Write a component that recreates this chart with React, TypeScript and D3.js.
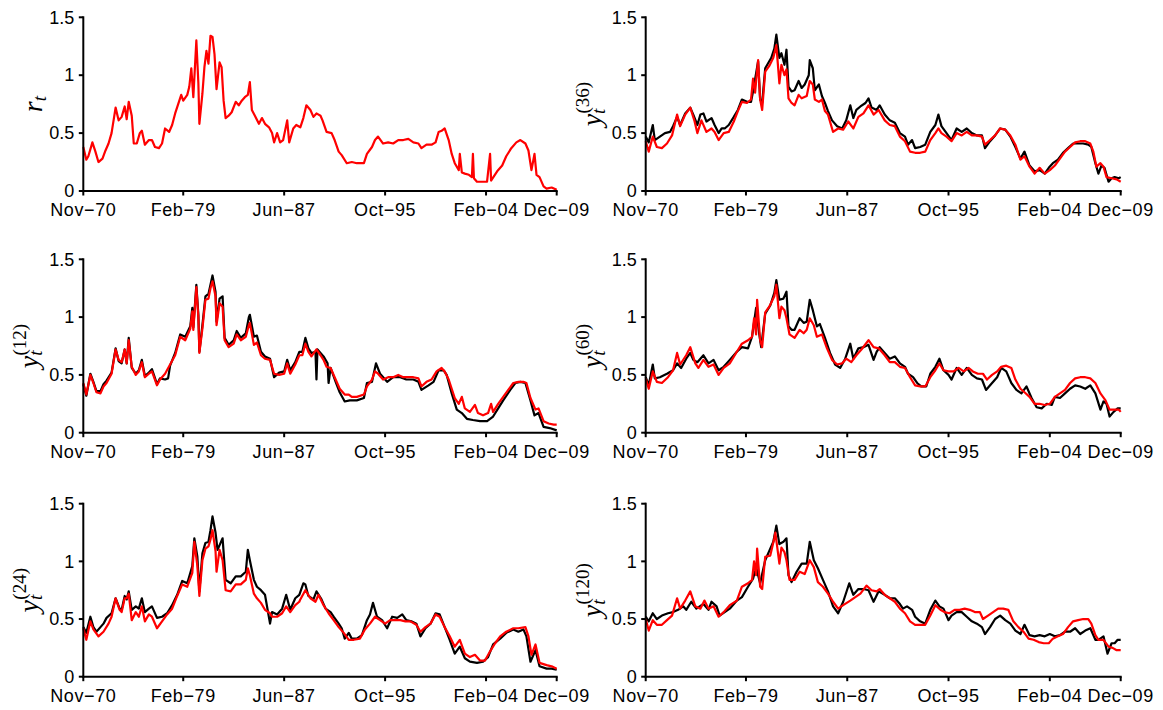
import React from 'react';
import * as d3 from 'd3';

type P = [number, number];

// month index 1 = Nov-70, 470 = Dec-09
const tickMonths = [1, 100, 200, 300, 400, 470];
const tickLabels = ['Nov\u221270', 'Feb\u221279', 'Jun\u221287', 'Oct\u221295', 'Feb\u221204', 'Dec\u221209'];
const yTickValues = [0, 0.5, 1, 1.5];
const yTickLabels = ['0', '0.5', '1', '1.5'];

const rt: P[] = [[1,0.38],[4,0.27],[6,0.30],[10,0.42],[13,0.34],[16,0.25],[20,0.28],[23,0.35],[26,0.41],[29,0.50],[33,0.72],[36,0.61],[39,0.64],[42,0.73],[44,0.62],[46,0.77],[49,0.65],[51,0.41],[54,0.41],[57,0.50],[59,0.52],[62,0.40],[66,0.44],[69,0.44],[72,0.38],[76,0.37],[79,0.41],[82,0.54],[86,0.51],[89,0.57],[92,0.67],[95,0.75],[98,0.83],[100,0.78],[104,0.83],[106,0.90],[108,1.06],[110,0.81],[113,1.30],[115,0.93],[116,0.58],[119,0.84],[121,1.07],[123,1.21],[125,1.10],[127,1.34],[129,1.33],[131,1.18],[133,0.88],[136,1.11],[138,1.07],[140,0.78],[142,0.63],[145,0.65],[148,0.68],[152,0.77],[155,0.74],[158,0.78],[161,0.81],[164,0.83],[166,0.94],[168,0.70],[171,0.65],[175,0.58],[178,0.63],[181,0.58],[185,0.55],[188,0.50],[190,0.42],[193,0.50],[196,0.42],[199,0.44],[203,0.61],[205,0.42],[209,0.54],[212,0.57],[216,0.55],[219,0.63],[222,0.74],[226,0.70],[229,0.64],[232,0.67],[236,0.65],[238,0.61],[242,0.51],[247,0.50],[250,0.44],[254,0.34],[257,0.31],[262,0.24],[267,0.25],[272,0.24],[279,0.24],[282,0.32],[287,0.38],[290,0.44],[293,0.47],[298,0.41],[303,0.42],[308,0.41],[313,0.44],[318,0.44],[323,0.45],[328,0.42],[333,0.41],[336,0.37],[341,0.40],[346,0.40],[350,0.42],[353,0.51],[356,0.52],[359,0.54],[363,0.44],[366,0.32],[369,0.24],[373,0.18],[374,0.32],[376,0.16],[379,0.15],[383,0.14],[386,0.12],[387,0.32],[388,0.11],[391,0.08],[396,0.08],[401,0.08],[404,0.32],[405,0.09],[411,0.17],[416,0.22],[420,0.30],[425,0.37],[430,0.42],[434,0.44],[439,0.41],[442,0.35],[445,0.18],[448,0.32],[450,0.14],[453,0.12],[457,0.04],[460,0.02],[465,0.03],[470,0.01]];

const y12Data: P[] = [[1,0.42],[4,0.32],[8,0.51],[11,0.44],[14,0.36],[18,0.36],[21,0.42],[24,0.45],[29,0.52],[33,0.73],[36,0.62],[39,0.60],[42,0.72],[44,0.60],[46,0.82],[49,0.56],[53,0.51],[56,0.54],[59,0.63],[62,0.49],[66,0.52],[69,0.55],[74,0.42],[77,0.47],[82,0.46],[85,0.47],[87,0.58],[92,0.69],[97,0.85],[102,0.83],[107,0.92],[109,1.08],[110,0.91],[113,1.28],[115,1.02],[116,0.70],[119,0.93],[122,1.18],[125,1.20],[127,1.28],[129,1.36],[132,1.22],[133,0.96],[136,1.16],[139,1.18],[141,0.82],[145,0.76],[150,0.80],[153,0.88],[157,0.82],[162,0.86],[165,1.00],[166,1.02],[170,0.83],[173,0.84],[177,0.70],[181,0.66],[186,0.64],[190,0.48],[195,0.52],[200,0.53],[203,0.63],[206,0.54],[211,0.61],[215,0.70],[218,0.70],[221,0.82],[224,0.73],[227,0.69],[231,0.70],[232,0.46],[233,0.72],[239,0.66],[243,0.60],[244,0.43],[246,0.56],[251,0.44],[255,0.35],[260,0.27],[265,0.28],[272,0.28],[279,0.30],[282,0.43],[287,0.44],[291,0.60],[295,0.51],[302,0.44],[308,0.48],[315,0.48],[321,0.46],[328,0.46],[333,0.44],[336,0.37],[343,0.41],[348,0.44],[353,0.54],[358,0.54],[361,0.50],[366,0.34],[371,0.20],[376,0.17],[381,0.12],[387,0.11],[394,0.10],[401,0.10],[407,0.14],[412,0.21],[417,0.28],[424,0.37],[429,0.43],[434,0.44],[439,0.43],[444,0.28],[448,0.15],[452,0.17],[457,0.05],[463,0.04],[470,0.02]];
const y12Model: P[] = [[1,0.43],[4,0.33],[8,0.50],[11,0.43],[14,0.35],[18,0.34],[21,0.40],[24,0.43],[29,0.51],[33,0.72],[36,0.63],[39,0.61],[42,0.72],[44,0.60],[46,0.80],[49,0.57],[53,0.50],[56,0.53],[59,0.61],[62,0.48],[66,0.51],[69,0.53],[74,0.41],[77,0.46],[82,0.51],[87,0.59],[92,0.67],[97,0.83],[102,0.80],[107,0.90],[109,1.05],[110,0.89],[113,1.26],[115,1.00],[116,0.69],[119,0.90],[122,1.15],[125,1.16],[127,1.25],[129,1.31],[132,1.18],[133,0.93],[136,1.12],[139,1.09],[141,0.80],[145,0.74],[150,0.77],[153,0.85],[157,0.80],[162,0.83],[165,0.93],[166,0.95],[170,0.76],[173,0.78],[177,0.67],[181,0.64],[186,0.63],[190,0.51],[195,0.50],[200,0.51],[203,0.60],[206,0.51],[211,0.59],[215,0.67],[218,0.67],[221,0.77],[224,0.70],[227,0.66],[232,0.72],[236,0.67],[239,0.63],[242,0.57],[246,0.56],[251,0.46],[255,0.38],[260,0.33],[264,0.33],[267,0.31],[272,0.31],[279,0.33],[282,0.40],[287,0.46],[290,0.53],[293,0.51],[298,0.46],[303,0.48],[308,0.48],[313,0.50],[318,0.48],[323,0.48],[328,0.48],[333,0.47],[336,0.40],[341,0.44],[346,0.46],[351,0.53],[356,0.56],[359,0.53],[363,0.46],[366,0.38],[369,0.30],[373,0.25],[376,0.31],[379,0.21],[384,0.18],[389,0.24],[392,0.17],[397,0.15],[402,0.17],[405,0.25],[407,0.18],[412,0.25],[417,0.31],[422,0.37],[427,0.43],[432,0.44],[437,0.44],[440,0.43],[444,0.30],[449,0.20],[452,0.21],[457,0.10],[462,0.08],[467,0.07],[470,0.07]];

const y24Data: P[] = [[1,0.43],[4,0.38],[8,0.52],[11,0.43],[14,0.39],[18,0.43],[21,0.46],[24,0.51],[29,0.55],[33,0.68],[37,0.59],[39,0.58],[42,0.70],[44,0.67],[46,0.74],[49,0.58],[53,0.61],[56,0.59],[59,0.68],[62,0.56],[66,0.59],[69,0.61],[74,0.51],[79,0.52],[84,0.55],[89,0.62],[94,0.71],[99,0.83],[104,0.81],[109,0.96],[111,1.20],[114,1.04],[116,0.74],[119,1.07],[122,1.16],[125,1.17],[127,1.27],[129,1.39],[132,1.25],[134,1.10],[137,1.16],[139,1.20],[142,0.84],[147,0.81],[152,0.87],[157,0.87],[162,0.91],[164,1.10],[166,1.01],[170,0.84],[173,0.78],[177,0.75],[181,0.71],[186,0.46],[188,0.56],[193,0.54],[198,0.59],[202,0.71],[206,0.58],[211,0.68],[215,0.71],[219,0.81],[221,0.80],[224,0.70],[229,0.67],[232,0.74],[237,0.67],[241,0.59],[246,0.56],[249,0.52],[254,0.46],[257,0.42],[260,0.33],[264,0.38],[267,0.33],[272,0.33],[277,0.36],[282,0.49],[285,0.54],[288,0.64],[292,0.52],[297,0.49],[302,0.42],[307,0.52],[312,0.51],[317,0.54],[321,0.49],[326,0.48],[331,0.46],[335,0.35],[340,0.42],[345,0.46],[350,0.55],[354,0.54],[359,0.43],[364,0.32],[369,0.20],[374,0.26],[379,0.16],[384,0.13],[391,0.12],[397,0.13],[402,0.17],[407,0.28],[414,0.33],[420,0.38],[427,0.41],[432,0.39],[437,0.41],[440,0.35],[444,0.13],[449,0.23],[453,0.09],[460,0.07],[465,0.07],[470,0.06]];
const y24Model: P[] = [[1,0.42],[4,0.32],[8,0.48],[11,0.41],[16,0.35],[21,0.39],[26,0.46],[29,0.52],[33,0.68],[37,0.58],[39,0.56],[42,0.68],[44,0.68],[46,0.72],[49,0.49],[53,0.56],[56,0.52],[59,0.61],[62,0.48],[66,0.54],[69,0.52],[74,0.42],[79,0.48],[84,0.54],[89,0.59],[94,0.70],[99,0.80],[104,0.78],[109,0.90],[111,1.17],[114,0.96],[116,0.70],[119,1.01],[122,1.11],[125,1.13],[127,1.19],[129,1.27],[132,1.09],[133,0.91],[136,1.10],[139,1.01],[142,0.75],[147,0.74],[152,0.80],[157,0.80],[162,0.84],[164,0.94],[166,0.88],[170,0.72],[173,0.68],[177,0.64],[181,0.58],[186,0.55],[188,0.52],[193,0.52],[198,0.55],[202,0.61],[206,0.56],[211,0.62],[215,0.65],[216,0.67],[221,0.75],[226,0.68],[231,0.65],[234,0.71],[239,0.62],[244,0.55],[249,0.49],[254,0.43],[259,0.38],[264,0.32],[269,0.32],[275,0.33],[280,0.41],[285,0.46],[290,0.52],[295,0.49],[300,0.46],[305,0.49],[310,0.49],[315,0.49],[320,0.48],[325,0.48],[331,0.45],[335,0.39],[340,0.43],[345,0.46],[350,0.54],[354,0.52],[359,0.43],[364,0.35],[369,0.26],[374,0.32],[379,0.20],[384,0.17],[389,0.19],[394,0.14],[399,0.14],[404,0.22],[409,0.29],[414,0.35],[420,0.39],[427,0.42],[432,0.42],[439,0.43],[442,0.35],[445,0.19],[449,0.28],[453,0.12],[460,0.10],[465,0.09],[470,0.07]];

const y36Data: P[] = [[1,0.47],[4,0.42],[8,0.57],[10,0.44],[15,0.47],[20,0.50],[25,0.51],[28,0.56],[32,0.64],[35,0.57],[40,0.67],[45,0.72],[48,0.66],[52,0.57],[55,0.66],[58,0.67],[61,0.60],[66,0.63],[69,0.57],[73,0.50],[76,0.54],[79,0.54],[83,0.57],[88,0.64],[92,0.70],[96,0.79],[101,0.77],[105,0.77],[107,0.86],[112,1.12],[114,0.79],[116,0.76],[119,1.06],[123,1.12],[125,1.15],[128,1.23],[130,1.35],[133,1.15],[135,1.19],[138,1.09],[140,1.22],[142,0.90],[145,0.86],[148,0.87],[152,0.95],[155,0.89],[158,0.92],[162,1.00],[163,1.13],[166,1.06],[168,0.87],[172,0.92],[175,0.82],[178,0.76],[181,0.69],[185,0.61],[190,0.56],[195,0.54],[199,0.61],[203,0.74],[206,0.63],[209,0.70],[213,0.73],[218,0.76],[221,0.80],[224,0.72],[229,0.70],[232,0.74],[237,0.66],[242,0.61],[247,0.59],[252,0.50],[257,0.47],[260,0.40],[264,0.44],[267,0.37],[272,0.38],[277,0.40],[282,0.51],[287,0.57],[290,0.66],[293,0.56],[298,0.50],[303,0.44],[308,0.54],[313,0.51],[318,0.54],[323,0.50],[328,0.48],[333,0.48],[336,0.37],[341,0.43],[346,0.48],[351,0.54],[356,0.53],[361,0.47],[366,0.38],[371,0.28],[375,0.34],[380,0.22],[385,0.17],[390,0.18],[395,0.15],[399,0.20],[403,0.24],[408,0.27],[413,0.33],[418,0.37],[423,0.41],[428,0.41],[433,0.41],[438,0.40],[441,0.38],[445,0.24],[448,0.15],[451,0.22],[454,0.20],[458,0.08],[461,0.11],[464,0.12],[468,0.11],[470,0.12]];
const y36Model: P[] = [[1,0.43],[4,0.34],[8,0.47],[12,0.38],[17,0.37],[22,0.41],[27,0.48],[32,0.66],[35,0.56],[40,0.66],[45,0.72],[49,0.61],[52,0.50],[56,0.61],[61,0.51],[66,0.54],[69,0.51],[73,0.44],[78,0.50],[83,0.51],[88,0.60],[92,0.69],[96,0.77],[101,0.76],[105,0.79],[107,0.97],[109,0.85],[112,1.13],[114,0.79],[116,0.70],[119,1.03],[123,1.08],[127,1.15],[130,1.26],[133,0.93],[135,1.09],[138,1.00],[140,1.05],[142,0.80],[145,0.76],[148,0.74],[152,0.83],[155,0.80],[160,0.82],[163,0.95],[166,0.92],[168,0.79],[172,0.77],[175,0.79],[178,0.69],[181,0.66],[186,0.51],[191,0.54],[196,0.53],[201,0.60],[206,0.54],[211,0.64],[216,0.67],[221,0.74],[226,0.66],[231,0.70],[237,0.61],[242,0.57],[247,0.56],[252,0.47],[257,0.43],[262,0.34],[267,0.33],[272,0.33],[277,0.34],[282,0.44],[287,0.50],[290,0.54],[293,0.50],[298,0.47],[303,0.43],[308,0.50],[313,0.48],[318,0.51],[323,0.48],[328,0.48],[333,0.47],[336,0.40],[341,0.44],[346,0.48],[351,0.54],[356,0.53],[361,0.48],[366,0.40],[371,0.27],[375,0.30],[380,0.21],[385,0.15],[390,0.20],[395,0.15],[400,0.18],[405,0.22],[410,0.28],[415,0.34],[420,0.38],[425,0.42],[430,0.43],[435,0.43],[440,0.41],[443,0.34],[446,0.21],[450,0.24],[453,0.21],[456,0.12],[461,0.11],[466,0.10],[470,0.08]];

const y60Data: P[] = [[1,0.48],[4,0.41],[8,0.59],[10,0.47],[15,0.48],[22,0.51],[28,0.54],[32,0.60],[36,0.56],[41,0.64],[45,0.69],[48,0.63],[52,0.61],[58,0.67],[63,0.60],[68,0.63],[73,0.54],[78,0.57],[84,0.63],[91,0.70],[96,0.74],[102,0.73],[106,0.83],[110,1.08],[113,0.86],[115,0.74],[119,1.03],[124,1.10],[128,1.21],[130,1.32],[133,1.15],[137,1.16],[140,1.22],[142,0.92],[145,0.89],[148,0.89],[153,0.99],[157,0.95],[160,0.96],[163,1.15],[166,1.06],[170,0.92],[173,0.94],[178,0.82],[183,0.69],[188,0.59],[193,0.56],[198,0.64],[203,0.77],[206,0.64],[211,0.73],[216,0.74],[221,0.76],[226,0.63],[229,0.70],[232,0.74],[237,0.69],[242,0.64],[247,0.66],[252,0.60],[257,0.57],[260,0.51],[265,0.48],[269,0.43],[273,0.40],[278,0.40],[282,0.51],[287,0.57],[291,0.64],[295,0.54],[300,0.50],[303,0.46],[308,0.56],[313,0.50],[318,0.56],[323,0.50],[328,0.47],[333,0.46],[337,0.37],[343,0.43],[348,0.48],[352,0.56],[357,0.53],[362,0.43],[367,0.37],[372,0.34],[377,0.40],[382,0.30],[387,0.22],[392,0.21],[397,0.25],[402,0.24],[405,0.31],[410,0.30],[415,0.34],[420,0.38],[425,0.41],[430,0.40],[435,0.38],[440,0.41],[445,0.34],[450,0.20],[453,0.27],[456,0.25],[459,0.14],[463,0.18],[467,0.21],[470,0.21]];
const y60Model: P[] = [[1,0.47],[4,0.38],[8,0.53],[12,0.44],[17,0.43],[23,0.48],[28,0.54],[32,0.69],[35,0.59],[41,0.67],[45,0.74],[50,0.60],[53,0.56],[58,0.63],[63,0.57],[68,0.59],[73,0.50],[78,0.56],[84,0.60],[91,0.70],[96,0.77],[102,0.80],[106,0.83],[108,0.99],[110,0.85],[111,1.15],[114,0.80],[116,0.74],[119,1.04],[123,1.09],[128,1.18],[130,1.28],[133,0.99],[135,1.09],[138,1.06],[140,0.99],[143,0.85],[148,0.82],[153,0.89],[157,0.86],[160,0.89],[163,0.99],[167,0.93],[170,0.83],[175,0.85],[180,0.73],[185,0.63],[190,0.59],[195,0.60],[199,0.64],[204,0.61],[209,0.67],[214,0.72],[221,0.80],[226,0.74],[231,0.73],[237,0.67],[242,0.61],[247,0.61],[252,0.57],[257,0.56],[262,0.48],[267,0.41],[272,0.40],[277,0.40],[282,0.48],[287,0.54],[291,0.60],[295,0.54],[300,0.53],[305,0.53],[310,0.56],[315,0.53],[320,0.56],[324,0.53],[329,0.51],[334,0.51],[338,0.46],[343,0.50],[348,0.53],[352,0.57],[357,0.58],[362,0.56],[366,0.46],[371,0.38],[375,0.35],[380,0.31],[385,0.25],[390,0.25],[395,0.24],[400,0.25],[405,0.31],[410,0.34],[415,0.37],[420,0.43],[425,0.47],[430,0.48],[435,0.48],[440,0.47],[445,0.43],[450,0.34],[455,0.28],[459,0.20],[464,0.20],[468,0.20],[470,0.18]];

const y120Data: P[] = [[1,0.52],[4,0.48],[8,0.55],[12,0.50],[17,0.53],[23,0.55],[28,0.56],[33,0.58],[38,0.61],[41,0.58],[46,0.65],[51,0.59],[58,0.63],[63,0.58],[66,0.65],[71,0.61],[74,0.53],[79,0.56],[84,0.59],[91,0.66],[96,0.69],[102,0.78],[107,0.85],[110,0.95],[114,0.81],[119,1.01],[124,1.11],[127,1.17],[130,1.31],[133,1.15],[137,1.17],[140,1.20],[142,0.88],[145,0.82],[150,0.91],[155,0.98],[160,0.98],[163,1.17],[167,1.01],[171,0.94],[176,0.84],[181,0.74],[186,0.61],[191,0.55],[196,0.65],[202,0.81],[206,0.71],[211,0.76],[216,0.76],[221,0.75],[226,0.65],[231,0.74],[237,0.71],[242,0.68],[247,0.68],[252,0.63],[255,0.59],[259,0.61],[264,0.58],[267,0.52],[272,0.48],[277,0.46],[282,0.58],[287,0.66],[291,0.61],[295,0.59],[300,0.49],[303,0.53],[308,0.56],[313,0.56],[318,0.52],[323,0.48],[328,0.46],[333,0.43],[336,0.37],[341,0.43],[346,0.50],[351,0.53],[356,0.49],[361,0.46],[366,0.40],[371,0.37],[375,0.45],[380,0.36],[385,0.35],[390,0.36],[395,0.35],[400,0.37],[405,0.35],[410,0.36],[415,0.39],[420,0.39],[425,0.42],[430,0.37],[435,0.40],[440,0.42],[445,0.32],[448,0.32],[453,0.35],[457,0.20],[461,0.29],[464,0.29],[467,0.32],[470,0.32]];
const y120Model: P[] = [[1,0.50],[4,0.40],[8,0.49],[12,0.45],[17,0.45],[22,0.49],[27,0.53],[32,0.68],[35,0.59],[40,0.66],[45,0.74],[50,0.61],[55,0.59],[59,0.66],[63,0.59],[68,0.61],[73,0.52],[78,0.56],[84,0.62],[91,0.66],[96,0.78],[102,0.81],[106,0.84],[108,1.00],[110,0.88],[111,1.11],[114,0.78],[116,0.76],[119,1.04],[124,1.05],[128,1.20],[129,1.25],[133,0.98],[135,1.12],[138,1.08],[140,1.01],[143,0.84],[148,0.84],[153,0.91],[158,0.89],[163,1.01],[167,0.95],[171,0.82],[176,0.78],[181,0.72],[186,0.65],[191,0.59],[196,0.62],[203,0.66],[208,0.69],[213,0.72],[219,0.79],[224,0.75],[229,0.74],[232,0.76],[237,0.71],[242,0.68],[247,0.65],[252,0.59],[257,0.55],[262,0.48],[267,0.45],[272,0.45],[277,0.45],[282,0.53],[287,0.62],[292,0.58],[296,0.56],[301,0.55],[306,0.58],[311,0.58],[316,0.59],[321,0.58],[326,0.56],[331,0.56],[334,0.50],[339,0.53],[344,0.56],[349,0.59],[354,0.59],[359,0.58],[364,0.48],[369,0.43],[374,0.39],[379,0.33],[384,0.32],[389,0.30],[394,0.29],[399,0.29],[403,0.33],[408,0.35],[413,0.37],[418,0.43],[423,0.48],[428,0.49],[433,0.50],[438,0.50],[441,0.46],[445,0.36],[448,0.32],[453,0.32],[458,0.26],[462,0.25],[466,0.23],[470,0.23]];

const COLS: [number, number][] = [[83.3, 556.7], [645.7, 1120.7]];
const ROWS: [number, number][] = [[191, 17.3], [432.7, 259.3], [676.7, 503.7]];

interface Panel { col: number; row: number; main: string; sup: string | null; black: P[] | null; red: P[]; }

const panels: Panel[] = [
  { col: 0, row: 0, main: 'r', sup: null, black: null, red: rt },
  { col: 1, row: 0, main: 'y', sup: '(36)', black: y36Data, red: y36Model },
  { col: 0, row: 1, main: 'y', sup: '(12)', black: y12Data, red: y12Model },
  { col: 1, row: 1, main: 'y', sup: '(60)', black: y60Data, red: y60Model },
  { col: 0, row: 2, main: 'y', sup: '(24)', black: y24Data, red: y24Model },
  { col: 1, row: 2, main: 'y', sup: '(120)', black: y120Data, red: y120Model },
];

const SANS = "'Liberation Sans', Arial, Helvetica, sans-serif";
const SERIF = "'Liberation Serif', 'Times New Roman', serif";

function PanelView({ p }: { p: Panel }) {
  const [x0, x1] = COLS[p.col];
  const [yb, yt] = ROWS[p.row];
  const xs = d3.scaleLinear().domain([1, 470]).range([x0, x1]);
  const ys = d3.scaleLinear().domain([0, 1.5]).range([yb, yt]);
  const line = d3.line<P>().x(d => xs(d[0])).y(d => ys(d[1]));
  const yc = (yb + yt) / 2;
  const labelX = p.sup ? x0 - 45 : x0 - 41;
  return (
    <g>
      {p.black && <path d={line(p.black) || ''} fill="none" stroke="#000" strokeWidth={2.2} strokeLinejoin="round" />}
      <path d={line(p.red) || ''} fill="none" stroke="#ff0000" strokeWidth={2.2} strokeLinejoin="round" />
      <line x1={x0} x2={x1} y1={yb} y2={yb} stroke="#000" strokeWidth={2} strokeLinecap="square" />
      <line x1={x0} x2={x0} y1={yb} y2={yt} stroke="#000" strokeWidth={2} strokeLinecap="square" />
      {tickMonths.map((m, i) => (
        <g key={'x' + i}>
          <line x1={xs(m)} x2={xs(m)} y1={yb} y2={yb + 4.5} stroke="#000" strokeWidth={2} />
          <text x={xs(m)} y={yb + 25} textAnchor="middle" fontFamily={SANS} fontSize={18} letterSpacing={0.6} fill="#000">{tickLabels[i]}</text>
        </g>
      ))}
      {yTickValues.map((v, i) => (
        <g key={'y' + i}>
          <line x1={x0 - 4.5} x2={x0} y1={ys(v)} y2={ys(v)} stroke="#000" strokeWidth={2} />
          <text x={x0 - 9} y={ys(v) + 6.2} textAnchor="end" fontFamily={SANS} fontSize={18} fill="#000">{yTickLabels[i]}</text>
        </g>
      ))}
      <text transform={`translate(${labelX},${yc}) rotate(-90)`} textAnchor="middle" fontFamily={SERIF} fontSize={28} fill="#000">
        <tspan fontStyle="italic">{p.main}</tspan>
        <tspan fontStyle="italic" fontSize={19} dy={4}>t</tspan>
        {p.sup && <tspan fontSize={19} dx={-5} dy={-16}>{p.sup}</tspan>}
      </text>
    </g>
  );
}

export default function App() {
  return (
    <svg width={1163} height={710} viewBox="0 0 1163 710" style={{ position: 'absolute', left: 0, top: 0, background: '#fff' }}>
      <rect width={1163} height={710} fill="#fff" />
      {panels.map((p, i) => <PanelView key={i} p={p} />)}
    </svg>
  );
}
